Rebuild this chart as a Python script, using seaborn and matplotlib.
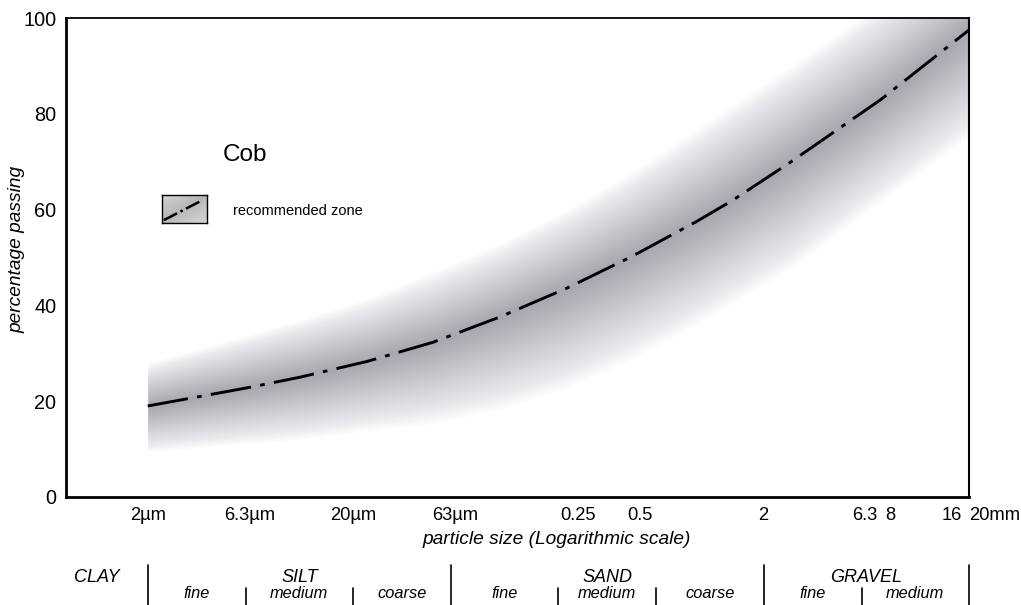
import numpy as np
import pandas as pd
import matplotlib
matplotlib.use("Agg")
import matplotlib.pyplot as plt
import seaborn as sns
from matplotlib.lines import Line2D
from matplotlib.ticker import NullLocator
from matplotlib.transforms import blended_transform_factory, ScaledTranslation

# ---------------- data ----------------
size_mm = [0.002, 0.0063, 0.011, 0.0234, 0.049, 0.104, 0.22, 0.46, 0.95,
           1.42, 2.7, 7.4, 20]
center_pct = [19.0, 22.9, 25.0, 28.3, 32.3, 37.6, 43.6, 50.3, 57.6,
              62.0, 69.9, 82.9, 97.5]
lower_pct = [9.4, 11.2, 12.0, 13.8, 15.3, 18.3, 22.6, 28.8, 36.0,
             40.5, 47.5, 61.5, 75.0]
upper_pct = [28.0, 34.0, 37.0, 41.5, 47.0, 53.0, 60.0, 68.0, 77.0,
             82.0, 90.0, 103.0, 116.0]

xtick_vals = [0.002, 0.0063, 0.02, 0.063, 0.25, 0.5, 2, 6.3, 8, 16]
xtick_labels = ["2µm", "6.3µm", "20µm", "63µm", "0.25", "0.5", "2", "6.3", "8", "16"]
end_label = "20mm"
ytick_vals = [0, 20, 40, 60, 80, 100]
yminor_vals = [10, 30, 50, 70, 90]

main_classes = ["CLAY", "SILT", "SAND", "GRAVEL"]
main_bounds = [0.002, 0.06, 2, 20]
sub_classes = ["fine", "medium", "coarse", "fine", "medium", "coarse", "fine", "medium"]
sub_edges = [0.002, 0.006, 0.02, 0.06, 0.2, 0.6, 2, 6, 20]

df = pd.DataFrame({"size": size_mm, "center": center_pct,
                   "lower": lower_pct, "upper": upper_pct})

# ---------------- style ----------------
sns.set_theme(style="white")
plt.rcParams["font.family"] = ["Liberation Sans", "DejaVu Sans"]
plt.rcParams["text.color"] = "black"
plt.rcParams["axes.labelcolor"] = "black"
plt.rcParams["xtick.color"] = "black"
plt.rcParams["ytick.color"] = "black"

W, H = 1021, 605
fig = plt.figure(figsize=(W / 100, H / 100), dpi=100)
fig.patch.set_facecolor("white")
ax = fig.add_axes([66 / W, 1 - 497 / H, 903 / W, 479 / H])
ax.set_facecolor("white")

# ---------------- gradient band ----------------
c = df["center"].to_numpy()
lo = df["lower"].to_numpy()
up = df["upper"].to_numpy()
N = 40
for k in range(N):
    f = (k + 1) / N
    ax.fill_between(df["size"], c - f * (c - lo), c + f * (up - c),
                    color="#6a6a78", alpha=0.015, linewidth=0)

# ---------------- center line ----------------
sns.lineplot(data=df, x="size", y="center", ax=ax, color="black",
             linewidth=2.1, estimator=None, sort=True)
ax.lines[-1].set_dashes([14, 3.2, 1.6, 3.2])
ax.lines[-1].set_dash_capstyle("butt")

# ---------------- axes ----------------
ax.set_xscale("log")
ax.set_xlim(0.0008, 20)
ax.set_ylim(0, 100)
ax.xaxis.set_minor_locator(NullLocator())
ax.set_xticks(xtick_vals)
ax.set_xticklabels(xtick_labels)
ax.set_yticks(ytick_vals)
ax.set_yticks(yminor_vals, minor=True)
ax.tick_params(axis="x", which="major", direction="in", length=8, width=1.3,
               labelsize=13.2, pad=7)
ax.tick_params(axis="y", which="both", direction="in", length=10, width=1.3,
               labelsize=14.3, pad=7)
for side, lw in [("left", 2.0), ("bottom", 2.0), ("top", 1.3), ("right", 1.5)]:
    ax.spines[side].set_visible(True)
    ax.spines[side].set_color("black")
    ax.spines[side].set_linewidth(lw)

# nudge the crowded "6.3" / "8" / "16" labels apart slightly, as in the reference
for lab in ax.get_xticklabels():
    shift = {"6.3": -1.5, "8": 3.0, "16": 3.0}.get(lab.get_text(), 0)
    if shift:
        lab.set_transform(lab.get_transform() +
                          ScaledTranslation(shift / 100, 0, fig.dpi_scale_trans))

ax.set_ylabel("percentage passing", fontsize=13.8, style="italic")
ax.yaxis.set_label_coords(-0.045, 0.516)
ax.set_xlabel("particle size (Logarithmic scale)", fontsize=13.8, style="italic")
ax.xaxis.set_label_coords((557 - 66) / 903, -0.072)

trans = blended_transform_factory(ax.transData, fig.transFigure)
ax.text(20, 1 - 515 / H, end_label, transform=trans, ha="left", va="center",
        fontsize=13.2)

# ---------------- "Cob" title and legend ----------------
fig.text(223 / W, 1 - 155 / H, "Cob", fontsize=17.5, ha="left", va="center")
lax = fig.add_axes([162 / W, 1 - 223 / H, 45 / W, 28 / H])
gx, gy = np.meshgrid(np.linspace(0, 1, 60), np.linspace(0, 1, 40))
grad = 0.40 - 0.14 * np.abs((gy - 0.1) - 0.85 * gx)
lax.imshow(grad, cmap="Greys", vmin=0, vmax=1, aspect="auto",
           extent=[0, 1, 0, 1], origin="lower")
lax.plot([0.04, 0.88], [0.1, 0.8], color="black", linewidth=1.8,
         dashes=[6, 1.5, 1, 1.5])
lax.set_xlim(0, 1)
lax.set_ylim(0, 1)
lax.set_xticks([])
lax.set_yticks([])
for s in lax.spines.values():
    s.set_visible(True)
    s.set_color("black")
    s.set_linewidth(1.0)
fig.text(233 / W, 1 - 211 / H, "recommended zone", fontsize=10.5,
         ha="left", va="center")

# ---------------- classification table ----------------
y_main = 1 - 577 / H
y_sub = 1 - 594 / H
y_long_top = 1 - 565 / H
y_short_top = 1 - 588 / H
for b in main_bounds:
    fig.add_artist(Line2D([b, b], [y_long_top, 0.0], transform=trans,
                          color="black", linewidth=1.2, clip_on=False))
for b in sub_edges:
    if b not in main_bounds:
        fig.add_artist(Line2D([b, b], [y_short_top, 0.0], transform=trans,
                              color="black", linewidth=1.2, clip_on=False))

main_pos = [0.00113,
            np.sqrt(main_bounds[0] * main_bounds[1]),
            np.sqrt(main_bounds[1] * main_bounds[2]),
            np.sqrt(main_bounds[2] * main_bounds[3])]
for name, xpos in zip(main_classes, main_pos):
    ax.text(xpos, y_main, name, transform=trans, ha="center", va="center",
            fontsize=13, style="italic")
for i, name in enumerate(sub_classes):
    xpos = np.sqrt(sub_edges[i] * sub_edges[i + 1])
    ax.text(xpos, y_sub, name, transform=trans, ha="center", va="center",
            fontsize=11.8, style="italic")

fig.savefig("out.png", dpi=100, facecolor="white")
